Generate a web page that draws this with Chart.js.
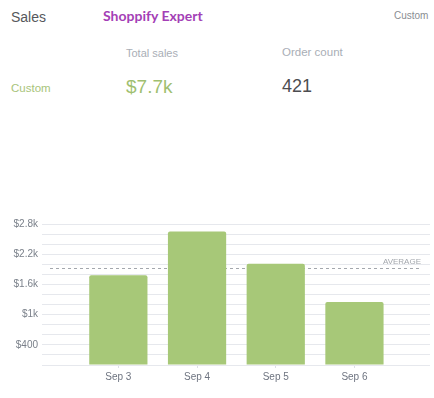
<!DOCTYPE html>
<html>
<head>
<meta charset="utf-8">
<script src="https://cdn.jsdelivr.net/npm/chart.js@4/dist/chart.umd.min.js"></script>
<style>
  html, body { margin: 0; padding: 0; background: #fff; }
  #page { position: relative; width: 434px; height: 398px; overflow: hidden; font-family: "Liberation Sans", Arial, sans-serif; }
  .t { position: absolute; transform: translateY(-50%); white-space: nowrap; line-height: 1; }
  #wrap { position: absolute; left: 0; top: 210px; width: 434px; height: 188px; }
</style>
</head>
<body>
<div id="page">
  <div class="t" style="left:11px;top:17px;font-size:14px;color:#56585c;">Sales</div>
  <div class="t" style="left:103px;top:16px;font-size:14px;font-weight:bold;color:#a43fb6;font-family:Lato,sans-serif;">Shoppify Expert</div>
  <div class="t" style="left:394px;top:16px;font-size:10px;color:#8a8d92;">Custom</div>
  <div class="t" style="left:126px;top:53px;font-size:11px;color:#a9aeb6;">Total sales</div>
  <div class="t" style="left:282px;top:53px;font-size:11.5px;color:#a9aeb6;">Order count</div>
  <div class="t" style="left:11px;top:89px;font-size:11.5px;color:#a8c47a;">Custom</div>
  <div class="t" style="left:126px;top:86px;font-size:19px;color:#9fbf70;">$7.7k</div>
  <div class="t" style="left:282px;top:86px;font-size:18px;color:#4c4d50;">421</div>
  <div id="wrap"><canvas id="chart"></canvas></div>
</div>
<script>
const days = ['Sep 3', 'Sep 4', 'Sep 5', 'Sep 6'];
const sales = [1780, 2650, 2010, 1250];
const yTicksShown = [400, 1000, 1600, 2200, 2800];

const avg = sales.reduce((a, b) => a + b, 0) / sales.length;

function money(v) {
    return v < 1000 ? '$' + v : '$' + (v / 1000) + 'k';
}

// dashed average line, drawn behind the bars
const averageLine = {
    id: 'averageLine',
    beforeDatasetsDraw(chart) {
        const { ctx, chartArea, scales } = chart;
        const y = Math.round(scales.y.getPixelForValue(avg)) + 0.5;
        ctx.save();
        ctx.strokeStyle = '#a3a7ad';
        ctx.lineWidth = 1;
        ctx.setLineDash([3, 3]);
        ctx.beginPath();
        ctx.moveTo(chartArea.left - 29, y);
        ctx.lineTo(chartArea.right - 8, y);
        ctx.stroke();
        ctx.setLineDash([]);
        ctx.fillStyle = '#a3a7ad';
        ctx.font = '8px "Liberation Sans", Arial, sans-serif';
        ctx.textAlign = 'right';
        ctx.textBaseline = 'middle';
        ctx.fillText('AVERAGE', chartArea.right - 9, y - 7);
        ctx.restore();
    }
};

const cfg = {
    type: 'bar',
    data: {
        datasets: [{
            data: sales.map((v, i) => ({ x: i, y: v })),
            backgroundColor: '#a7c878',
            borderRadius: 2,
            borderSkipped: 'bottom',
            categoryPercentage: 1,
            barPercentage: 0.74
        }]
    },
    options: {
        responsive: true,
        maintainAspectRatio: false,
        animation: false,
        layout: { padding: { top: 14, right: 4, left: 0, bottom: 0 } },
        plugins: { legend: { display: false }, tooltip: { enabled: false } },
        scales: {
            x: {
                type: 'linear',
                min: -0.5,
                max: 3.96,
                offset: false,
                afterBuildTicks: s => { s.ticks = days.map((d, i) => ({ value: i })); },
                afterFit: s => { s.height = 33; },
                ticks: {
                    callback: (v) => days[Math.round(v)],
                    color: '#6e7480',
                    font: { size: 10, family: '"Liberation Sans", Arial, sans-serif' },
                    padding: 3,
                    maxRotation: 0,
                    autoSkip: false
                },
                grid: { offset: false, drawOnChartArea: false, drawTicks: true, tickLength: 3, color: '#dde0e5' },
                border: { display: false }
            },
            y: {
                min: 0,
                max: 2800,
                afterFit: s => { s.width = 79; },
                ticks: {
                    stepSize: 200,
                    autoSkip: false,
                    padding: 4,
                    callback: v => yTicksShown.includes(v) ? money(v) : '',
                    color: '#7a808a',
                    font: { size: 10, family: '"Liberation Sans", Arial, sans-serif' }
                },
                grid: { color: '#e6e8ed', tickLength: 37, drawTicks: true },
                border: { display: false }
            }
        }
    },
    plugins: [averageLine]
};

const canvas = document.getElementById('chart');
const salesChart = new Chart(canvas, cfg);
</script>
</body>
</html>
